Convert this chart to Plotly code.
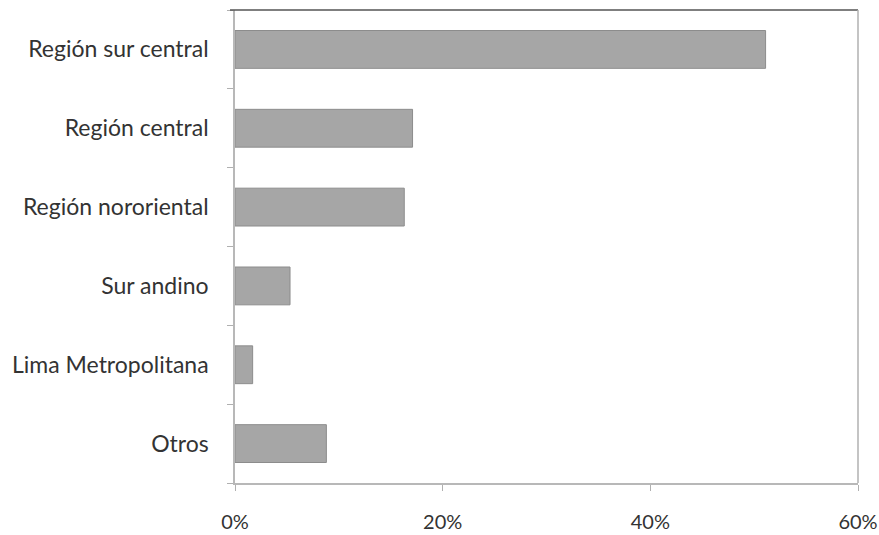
import plotly.graph_objects as go

categories = ["Región sur central", "Región central", "Región nororiental",
              "Sur andino", "Lima Metropolitana", "Otros"]
values = [51.1, 17.1, 16.3, 5.3, 1.7, 8.8]
tick_vals = [0, 20, 40, 60]
tick_text = ["0%", "20%", "40%", "60%"]

fig = go.Figure(go.Bar(
    x=values, y=categories, orientation="h",
    marker=dict(color="#a6a6a6", line=dict(color="#8c8c8c", width=1)),
))

fig.update_layout(
    width=879, height=535,
    margin=dict(l=235, r=21, t=10, b=52),
    paper_bgcolor="white", plot_bgcolor="white",
    bargap=0.52,
    showlegend=False,
    font=dict(family="Lato", color="#333333", size=23),
    shapes=[
        dict(type="line", xref="paper", yref="paper", x0=-0.008, x1=1, y0=1, y1=1,
             line=dict(color="#555555", width=1.5)),
        dict(type="line", xref="paper", yref="paper", x0=1, x1=1, y0=0, y1=1,
             line=dict(color="#b0b0b0", width=1.5)),
    ],
)

fig.update_xaxes(
    range=[0, 60], tickvals=tick_vals, ticktext=tick_text,
    showgrid=False, zeroline=False, automargin=False,
    showline=True, linecolor="#b8b8b8", linewidth=1.5,
    ticks="outside", ticklen=6, tickcolor="#b0b0b0",
    ticklabelstandoff=14, tickfont=dict(size=20),
)
fig.update_yaxes(
    categoryorder="array", categoryarray=categories[::-1],
    showgrid=False, zeroline=False, automargin=False,
    showline=True, linecolor="#b8b8b8", linewidth=1.5,
    ticks="outside", ticklen=6, tickcolor="#b0b0b0", tickson="boundaries",
    ticklabelstandoff=20,
)

fig.write_html("out.html", config={"displayModeBar": False},
               post_script="document.body.style.margin='0';")
